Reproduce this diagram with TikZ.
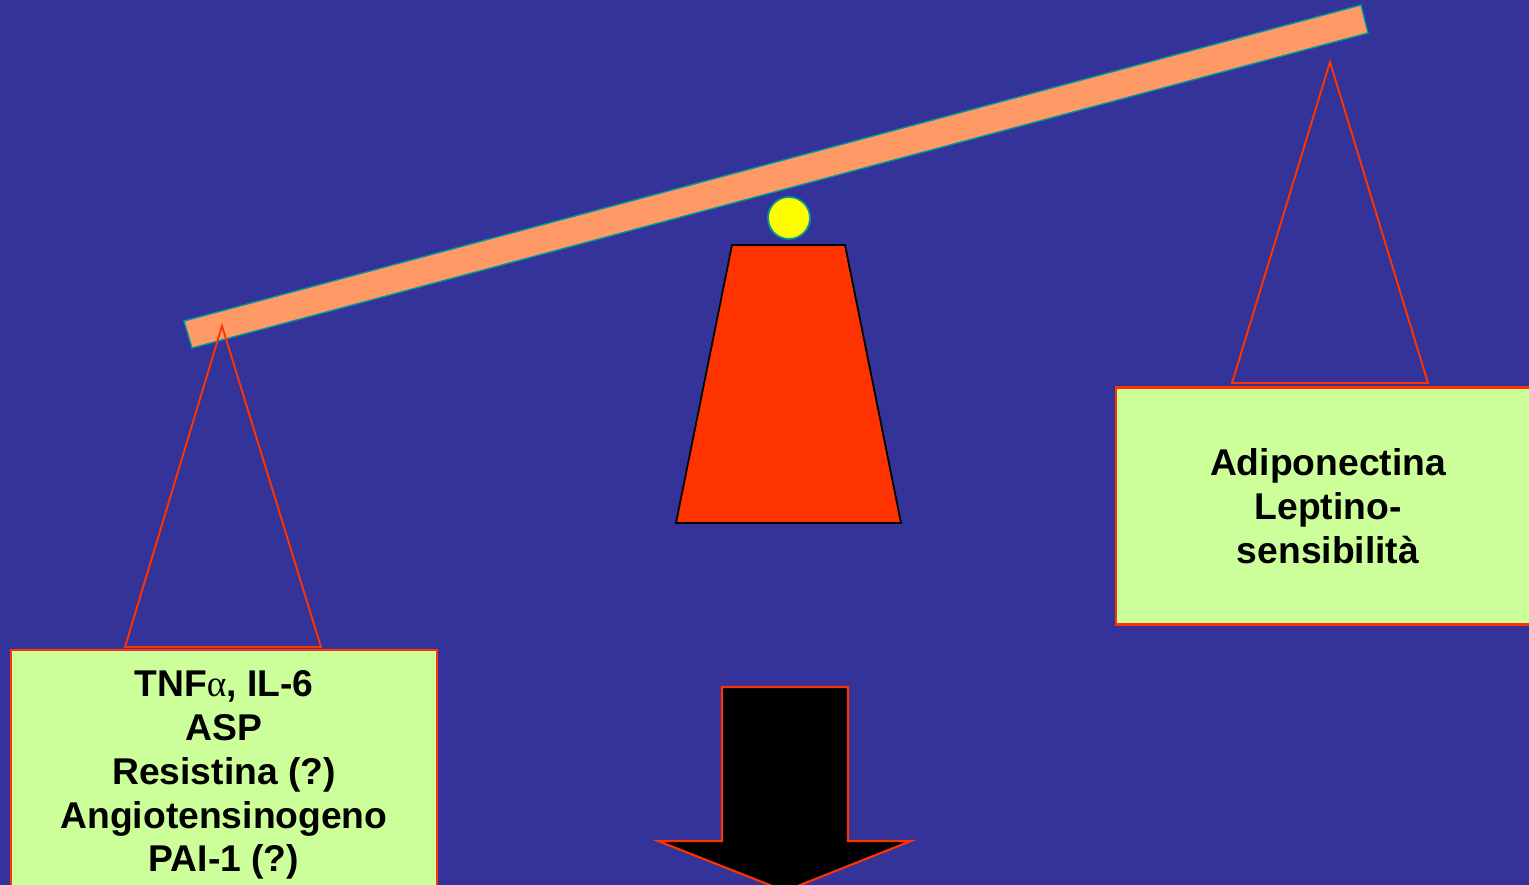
\documentclass[tikz,border=0pt]{standalone}
\usepackage{fontspec}
\setmainfont{Liberation Sans}
\newfontfamily\greco{Liberation Serif}

\definecolor{fondo}{HTML}{333399}
\definecolor{trave}{HTML}{FF9966}
\definecolor{bordo}{HTML}{009999}
\definecolor{rosso}{HTML}{FF3300}
\definecolor{verde}{HTML}{CCFF99}
\definecolor{giallo}{HTML}{FFFF00}

\tikzset{
  scatola/.style={draw=rosso, fill=verde, line width=1.3pt, align=center,
    font=\fontsize{21.2}{25}\selectfont\bfseries},
  filo/.style={draw=rosso, line width=1.1pt},
}

\begin{document}
\begin{tikzpicture}[x=0.02cm, y=-0.02cm]
    \useasboundingbox (0,0) rectangle (1529,885);
    \clip (0,0) rectangle (1529,885);
    \fill[fondo] (0,0) rectangle (1529,885);

    % trave della bilancia
    \filldraw[fill=trave, draw=bordo, line width=0.8pt] (184,321) -- (1361,5) -- (1368,33) -- (192,348) -- cycle;

    % base e perno
    \filldraw[fill=rosso, draw=black, line width=1pt] (732,245) -- (845,245) -- (901,523) -- (676,523) -- cycle;
    \filldraw[fill=giallo, draw=bordo, line width=1pt] (789,218) circle (0.42cm);

    \coordinate (A) at (222,326);
    \coordinate (B) at (1330,62);

    % fili dei piatti
    \draw[filo] (125,647) -- (A) -- (321,647) -- cycle;
    \draw[filo] (1232,383) -- (B) -- (1428,383) -- cycle;

    % piatti
    \node[scatola, minimum width=8.52cm, minimum height=5cm] (sinistra) at (224,775)
        {TNF{\greco\mdseries α}, IL-6\\ASP\\Resistina (?)\\Angiotensinogeno\\PAI-1 (?)};
    \node[scatola, minimum width=8.48cm, minimum height=4.74cm] (destra) at (1328,506)
        {Adiponectina\\Leptino-\\sensibilità};

    % freccia
    \filldraw[fill=black, draw=rosso, line width=1.2pt] (722,687) -- (848,687) -- (848,841) -- (911,841)
        -- (785,891) -- (658,841) -- (722,841) -- cycle;
\end{tikzpicture}
\end{document}
